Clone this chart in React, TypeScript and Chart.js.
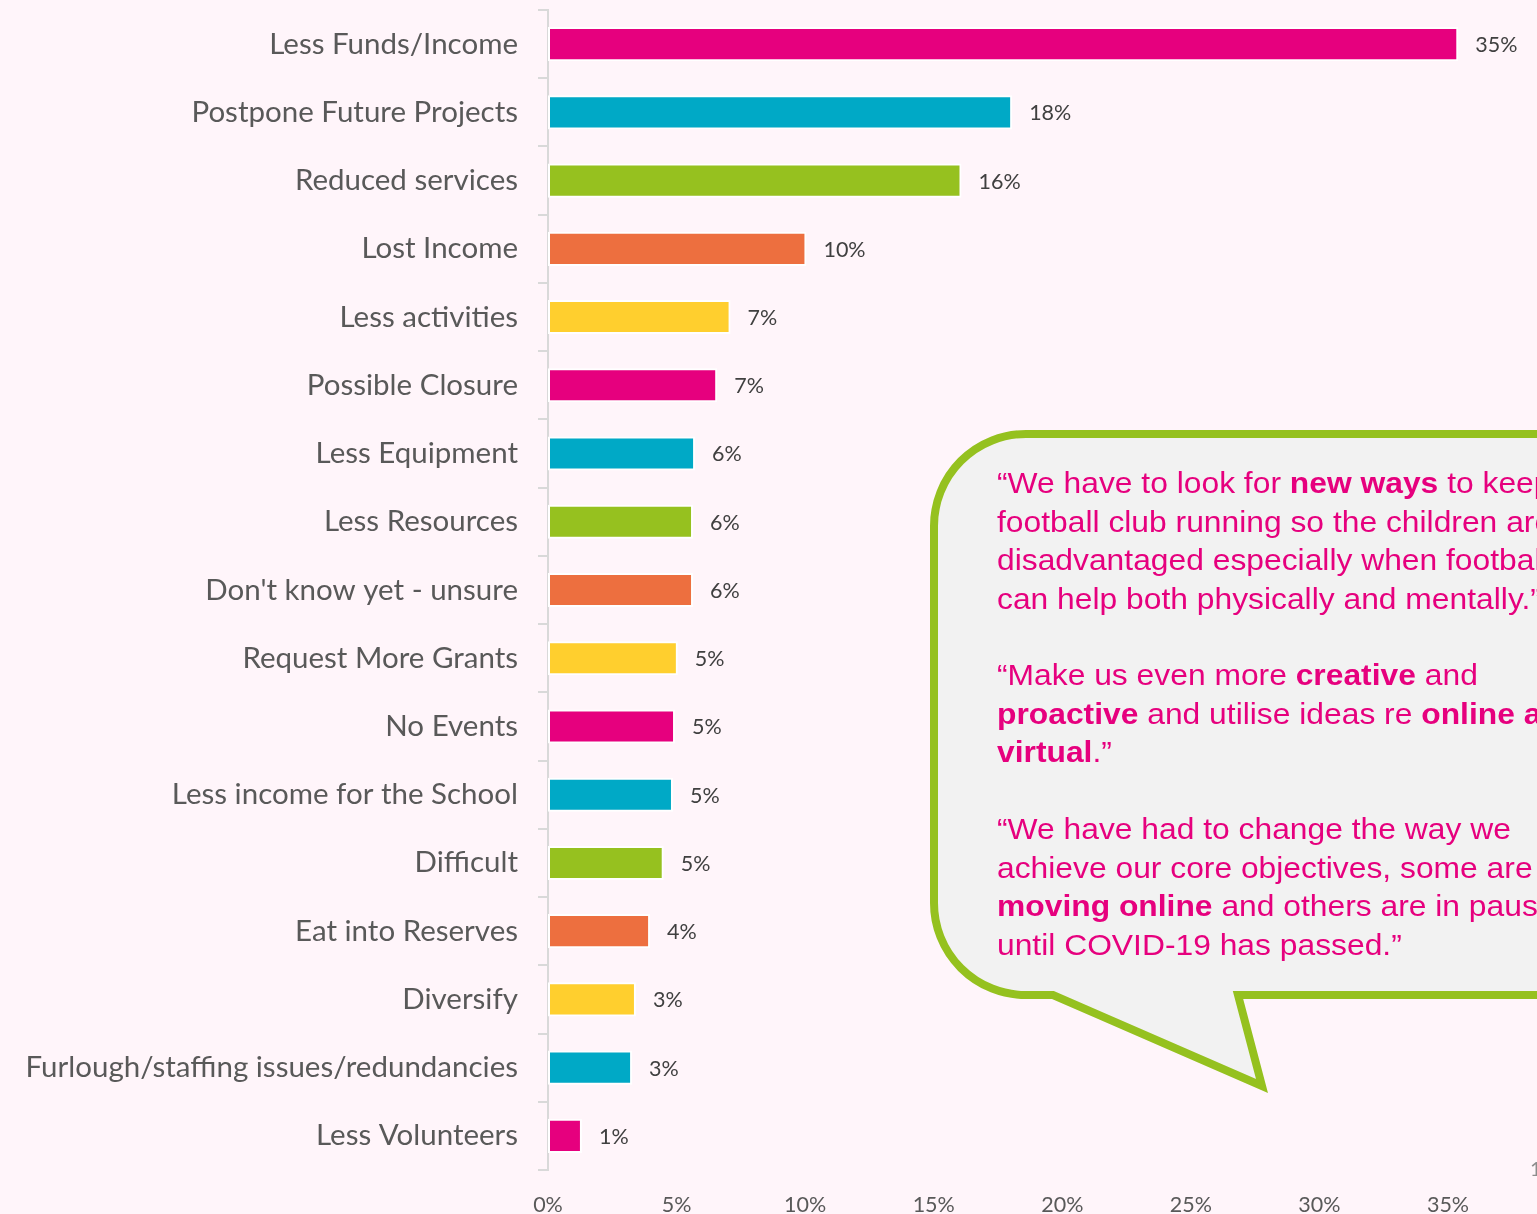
import React, { useEffect, useRef } from "react";
import { Chart, registerables } from "chart.js";

Chart.register(...registerables);

const categories = [
  "Less Funds/Income",
  "Postpone Future Projects",
  "Reduced services",
  "Lost Income",
  "Less activities",
  "Possible Closure",
  "Less Equipment",
  "Less Resources",
  "Don't know yet - unsure",
  "Request More Grants",
  "No Events",
  "Less income for the School",
  "Difficult",
  "Eat into Reserves",
  "Diversify",
  "Furlough/staffing issues/redundancies",
  "Less Volunteers",
];

const values = [35.4, 18.05, 16.08, 10.05, 7.1, 6.58, 5.72, 5.64, 5.64, 5.05, 4.94, 4.86, 4.5, 3.97, 3.42, 3.27, 1.32];

const valueLabels = ["35%", "18%", "16%", "10%", "7%", "7%", "6%", "6%", "6%", "5%", "5%", "5%", "5%", "4%", "3%", "3%", "1%"];

const MAGENTA = "#E6007E";
const TEAL = "#00A9C6";
const LIME = "#96C11F";
const ORANGE = "#ED6F3F";
const YELLOW = "#FFCF2E";

const barColors = [
  MAGENTA, TEAL, LIME, ORANGE, YELLOW,
  MAGENTA, TEAL, LIME, ORANGE, YELLOW,
  MAGENTA, TEAL, LIME, ORANGE, YELLOW,
  TEAL, MAGENTA,
];

const xTicks = [0, 5, 10, 15, 20, 25, 30, 35];

const BG = "#FFF5FA";
const PINK = "#E6007E";
const GREEN = "#95C11F";
const LABEL_FONT = "Lato, 'Open Sans', sans-serif";

const valueLabelPlugin = {
  id: "valueLabels",
  afterDatasetsDraw(chart: any) {
    const ctx = chart.ctx;
    const meta = chart.getDatasetMeta(0);
    ctx.save();
    ctx.font = `21.5px ${LABEL_FONT}`;
    ctx.fillStyle = "#404040";
    ctx.textAlign = "left";
    ctx.textBaseline = "middle";
    meta.data.forEach((el: any, i: number) => {
      ctx.fillText(valueLabels[i], el.x + 17, el.y + 1);
    });
    ctx.restore();
  },
};

function ChartView() {
  const ref = useRef<HTMLCanvasElement | null>(null);
  useEffect(() => {
    if (!ref.current) return;
    const chart = new Chart(ref.current, {
      type: "bar",
      data: {
        labels: categories,
        datasets: [
          {
            data: values,
            backgroundColor: barColors,
            borderColor: "#FFFFFF",
            borderWidth: 2,
            borderSkipped: false,
            barPercentage: 0.5,
            categoryPercentage: 1,
            clip: false as any,
          },
        ],
      },
      options: {
        indexAxis: "y",
        animation: false,
        responsive: false,
        maintainAspectRatio: false,
        layout: { padding: { top: 10, right: 89, left: 0, bottom: 0 } },
        plugins: {
          legend: { display: false },
          tooltip: { enabled: false },
        },
        scales: {
          y: {
            type: "category",
            offset: true,
            afterFit: (s: any) => {
              s.width = 548;
              s.paddingTop = 0;
              s.paddingBottom = 0;
            },
            grid: {
              display: true,
              drawOnChartArea: false,
              drawTicks: true,
              tickLength: 10,
              offset: true,
              color: "#D9D9D9",
              lineWidth: 2,
            },
            border: { display: true, color: "#D9D9D9", width: 2 },
            ticks: {
              padding: 20,
              color: "#595959",
              font: { family: LABEL_FONT, size: 29.5 },
              autoSkip: false,
            },
          },
          x: {
            type: "linear",
            min: 0,
            max: 35,
            afterFit: (s: any) => {
              s.height = 44;
            },
            afterBuildTicks: (s: any) => {
              s.ticks = xTicks.map((v) => ({ value: v }));
            },
            grid: { display: false, drawTicks: false },
            border: { display: false },
            ticks: {
              padding: 22,
              color: "#595959",
              font: { family: LABEL_FONT, size: 21.5 },
              callback: (v: any) => v + "%",
            },
          },
        },
      },
      plugins: [valueLabelPlugin],
    });
    return () => chart.destroy();
  }, []);
  return <canvas ref={ref} width={1537} height={1214} style={{ display: "block", width: 1537, height: 1214 }} />;
}

function Bubble() {
  const R1 = 92;
  const R2 = 92;
  const L = 934;
  const T = 434;
  const B = 995;
  const d = [
    `M ${L + R1} ${T}`,
    `L 1600 ${T}`,
    `L 1600 ${B}`,
    `L 1238 ${B}`,
    `L 1262 1086`,
    `L 1053 ${B}`,
    `L ${L + R2} ${B}`,
    `A ${R2} ${R2} 0 0 1 ${L} ${B - R2}`,
    `L ${L} ${T + R1}`,
    `A ${R1} ${R1} 0 0 1 ${L + R1} ${T}`,
    "Z",
  ].join(" ");
  const textStyle: React.CSSProperties = {
    position: "absolute",
    left: 997,
    fontFamily: "'Liberation Sans', Arial, sans-serif",
    fontSize: 30,
    lineHeight: "38.5px",
    color: PINK,
    whiteSpace: "nowrap",
    margin: 0,
    transform: "scaleX(1.06)",
    transformOrigin: "left top",
  };
  return (
    <>
      <svg width={1537} height={1214} style={{ position: "absolute", left: 0, top: 0 }}>
        <path d={d} fill="#F2F2F2" stroke={GREEN} strokeWidth={8} strokeLinejoin="miter" />
      </svg>
      <div style={{ ...textStyle, top: 464 }}>
        “We have to look for <b>new ways</b> to keep the
        <br />
        football club running so the children are not
        <br />
        disadvantaged especially when football
        <br />
        can help both physically and mentally.”
      </div>
      <div style={{ ...textStyle, top: 656 }}>
        “Make us even more <b>creative</b> and
        <br />
        <b>proactive</b> and utilise ideas re <b>online and</b>
        <br />
        <b>virtual</b>.”
      </div>
      <div style={{ ...textStyle, top: 810 }}>
        “We have had to change the way we
        <br />
        achieve our core objectives, some are
        <br />
        <b>moving online</b> and others are in pause
        <br />
        until COVID-19 has passed.”
      </div>
      <div
        style={{
          position: "absolute",
          left: 1530,
          top: 1156,
          fontFamily: LABEL_FONT,
          fontSize: 20,
          color: "#8C8C8C",
        }}
      >
        1
      </div>
    </>
  );
}

export default function App() {
  useEffect(() => {
    document.body.style.margin = "0";
    document.body.style.background = BG;
  }, []);
  return (
    <div
      style={{
        position: "absolute",
        left: 0,
        top: 0,
        width: 1537,
        height: 1214,
        overflow: "hidden",
        background: BG,
      }}
    >
      <ChartView />
      <Bubble />
    </div>
  );
}
